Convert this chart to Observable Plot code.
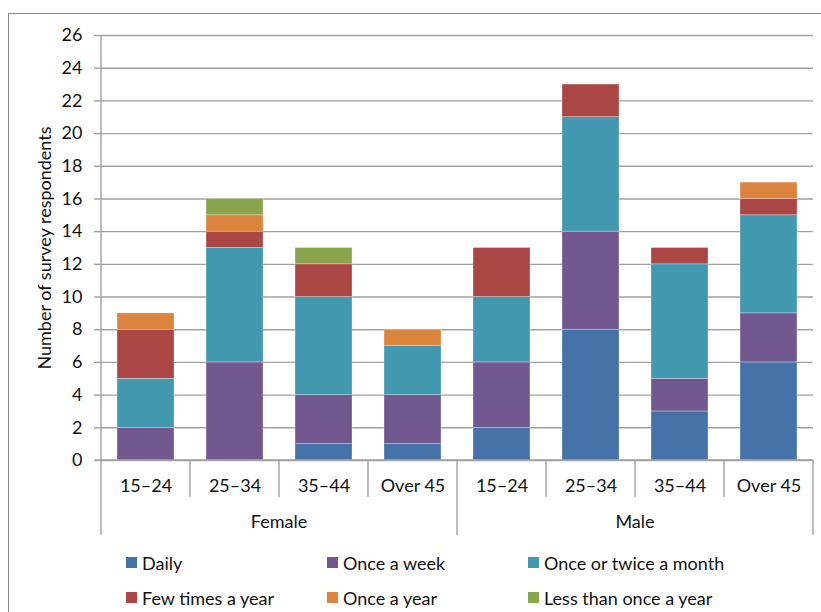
<!DOCTYPE html>
<html>
<head>
<meta charset="utf-8">
<script src="https://cdn.jsdelivr.net/npm/d3@7"></script>
<script src="https://cdn.jsdelivr.net/npm/@observablehq/plot@0.6"></script>
<style>
  html, body { margin: 0; padding: 0; background: #fff; overflow: hidden; }
  #wrap { position: relative; width: 821px; height: 612px; overflow: hidden; font-family: Lato, "Open Sans", sans-serif; }
  #border { position: absolute; left: 8px; top: 13px; width: 900px; height: 700px; border-left: 1.5px solid #8a8a8a; border-top: 1.5px solid #8a8a8a; pointer-events: none; }
  #legend { position: absolute; left: 126px; top: 545px; display: grid; grid-template-columns: 201px 201px auto; grid-auto-rows: 35px; font-size: 18px; color: #111; }
  .item { display: flex; align-items: center; }
  .sw { width: 11px; height: 11px; margin-right: 5px; flex: none; }
</style>
</head>
<body>
<div id="wrap">
  <div id="chart"></div>
  <div id="legend"></div>
  <div id="border"></div>
</div>
<script>
const genders = ["Female", "Male"];
const ages = ["15–24", "25–34", "35–44", "Over 45"];
const frequencies = ["Daily", "Once a week", "Once or twice a month", "Few times a year", "Once a year", "Less than once a year"];
const colors = ["#4572A7", "#71588F", "#4198AF", "#AA4643", "#DB843D", "#89A54E"];
// values per group, in order Female 15–24 … Female Over 45, Male 15–24 … Male Over 45
const daily        = [0, 0, 1, 1, 2, 8, 3, 6];
const onceAWeek    = [2, 6, 3, 3, 4, 6, 2, 3];
const monthly      = [3, 7, 6, 3, 4, 7, 7, 6];
const fewTimes     = [3, 1, 2, 0, 3, 2, 1, 1];
const onceAYear    = [1, 1, 0, 1, 0, 0, 0, 1];
const lessThanYear = [0, 1, 1, 0, 0, 0, 0, 0];
const yTicks = [0, 2, 4, 6, 8, 10, 12, 14, 16, 18, 20, 22, 24, 26];
const yLabel = "Number of survey respondents";

const series = [daily, onceAWeek, monthly, fewTimes, onceAYear, lessThanYear];
const keys = genders.flatMap(g => ages.map(a => g + "|" + a));
const table = [];
keys.forEach((k, i) => {
  series.forEach((s, j) => {
    if (s[i] > 0) table.push({ key: k, freq: frequencies[j], value: s[i] });
  });
});

const plot = Plot.plot({
  width: 821,
  height: 545,
  marginTop: 35,
  marginBottom: 85,
  marginLeft: 100,
  marginRight: 8,
  style: { fontFamily: "Lato, 'Open Sans', sans-serif", fontSize: "18px", color: "#111", background: "transparent" },
  x: { domain: keys, paddingInner: 0.36, paddingOuter: 0.18, axis: null },
  y: { domain: [0, 26], axis: null },
  color: { domain: frequencies, range: colors },
  marks: [
    Plot.ruleY(yTicks, { stroke: "#a0a0a0", strokeWidth: 1.4 }),
    Plot.axisY({ ticks: yTicks, tickSize: 6, tickPadding: 12, stroke: "#a0a0a0", strokeWidth: 1.4, label: null }),
    Plot.axisX({ tickSize: 0, tickPadding: 19, tickFormat: d => d.split("|")[1], label: null }),
    Plot.barY(table, { x: "key", y: "value", fill: "freq", z: "freq", order: frequencies, stroke: "white", strokeWidth: 0.6, strokeOpacity: 0.5 }),
    Plot.text([yLabel], { frameAnchor: "left", textAnchor: "middle", rotate: -90, dx: -55, text: d => d, fontSize: 18 })
  ]
});
document.getElementById("chart").appendChild(plot);

// category separators and group labels below the axis, positioned via the plot's scales
const xs = plot.scale("x");
const ys = plot.scale("y");
const gap = (xs.step - xs.bandwidth) / 2;
const cellStart = k => xs.apply(k) - gap;
const cellEnd = k => xs.apply(k) + xs.bandwidth + gap;
const y0 = ys.apply(0), yTop = ys.apply(26);
const svg = d3.select(plot);
const g = svg.append("g").attr("stroke", "#a0a0a0").attr("stroke-width", 1.4);
// x axis line
g.append("line").attr("x1", cellStart(keys[0]) - 6).attr("x2", cellEnd(keys[keys.length - 1])).attr("y1", y0).attr("y2", y0);
keys.forEach((k, i) => {
  const x = cellStart(k);
  const isGroupEdge = i % ages.length === 0;
  g.append("line").attr("x1", x).attr("x2", x)
    .attr("y1", i === 0 ? yTop : y0).attr("y2", isGroupEdge ? y0 + 75 : y0 + 37);
});
const lastX = cellEnd(keys[keys.length - 1]);
g.append("line").attr("x1", lastX).attr("x2", lastX).attr("y1", y0).attr("y2", y0 + 75);
genders.forEach((gd, gi) => {
  const first = keys[gi * ages.length], last = keys[gi * ages.length + ages.length - 1];
  svg.append("text")
    .attr("x", (cellStart(first) + cellEnd(last)) / 2)
    .attr("y", y0 + 68)
    .attr("text-anchor", "middle")
    .attr("fill", "#111")
    .text(gd);
});

// legend
const legend = document.getElementById("legend");
frequencies.forEach((f, i) => {
  const it = document.createElement("div");
  it.className = "item";
  it.innerHTML = `<span class="sw" style="background:${colors[i]}"></span><span>${f}</span>`;
  legend.appendChild(it);
});
</script>
</body>
</html>
